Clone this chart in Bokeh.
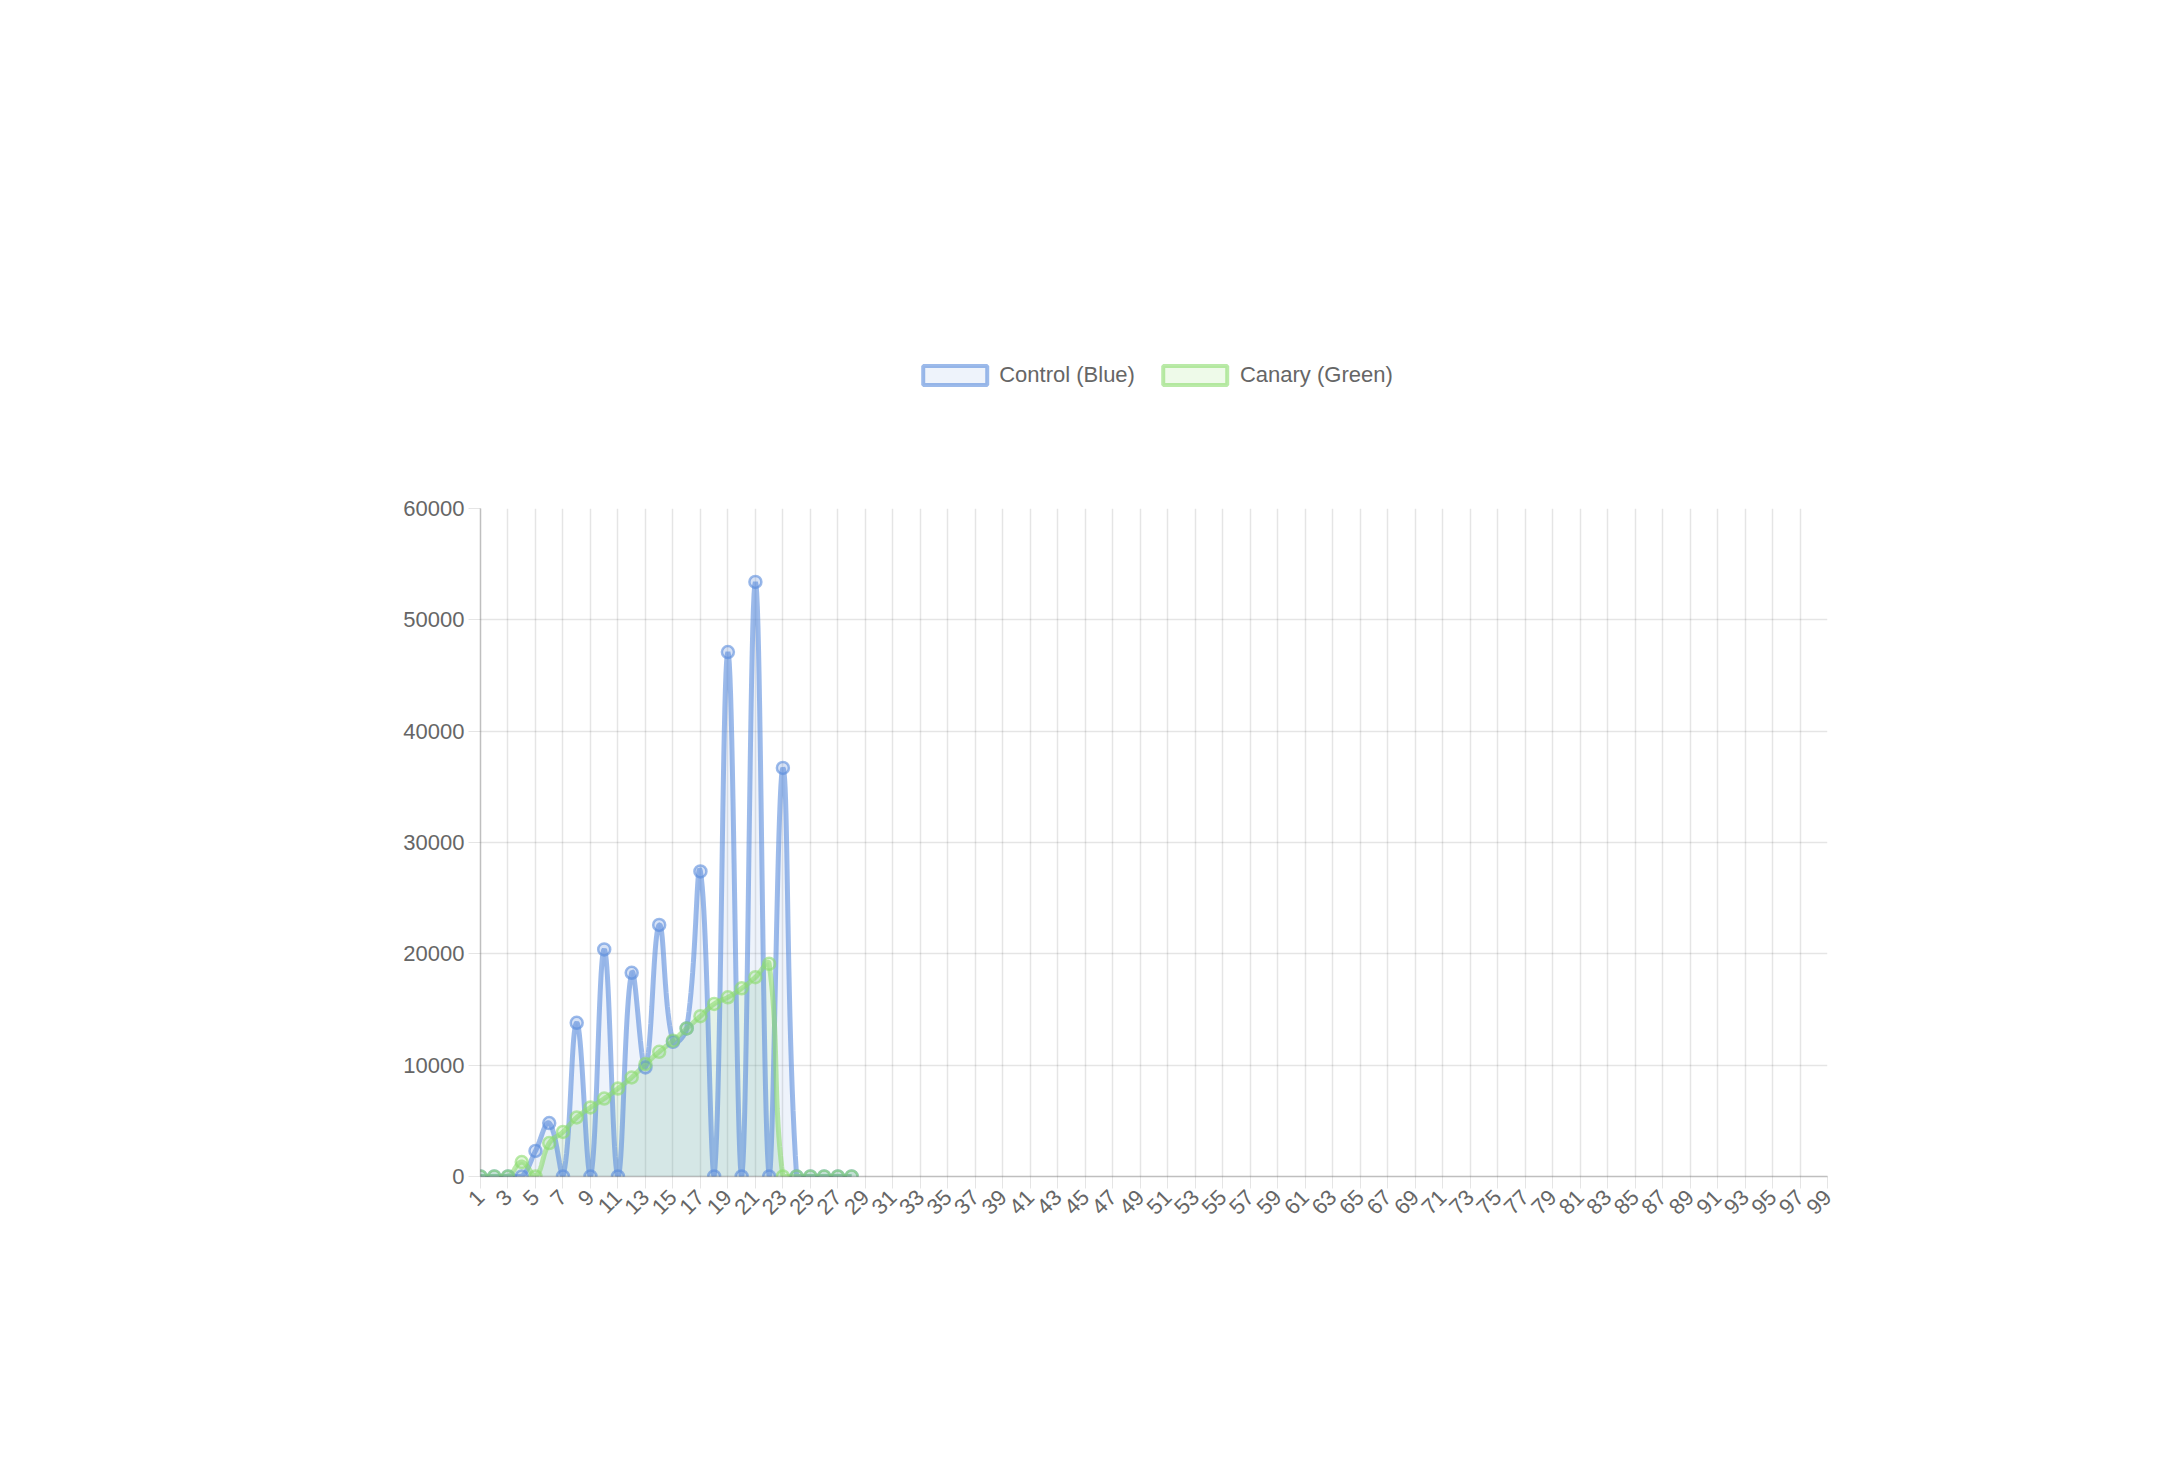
import numpy as np
from bokeh.plotting import figure
from bokeh.models import Legend, LegendItem, FixedTicker, ColumnDataSource, Range1d
from bokeh.embed import file_html
from bokeh.resources import INLINE

labels = list(range(1, 100))
control = [0, 0, 0, 0, 2300, 4800, 0, 13800, 0, 20400, 0, 18300, 9800, 22600, 12100, 13300,
           27400, 0, 47100, 0, 53400, 0, 36700, 0, 0, 0, 0, 0]
canary = [0, 0, 0, 1300, 0, 3000, 4000, 5300, 6200, 7000, 7900, 8900, 10100, 11200, 12200,
          13300, 14400, 15500, 16100, 16900, 17900, 19100, 0, 0, 0, 0, 0, 0]
blue_health = ["#77f94b", "#77f94b", "#77f94b"]
green_health = ["#5ccb3a"]

FW, FH = 1347, 668
YMAX = 60000
sx = FW / (labels[-1] - labels[0])
sy = FH / YMAX

def spline(xs, ys, t=0.4, n=24):
    px = np.array(xs, float) * sx
    py = np.array(ys, float) * sy
    m = len(px)
    c1 = []; c2 = []
    for i in range(m):
        p0 = max(i - 1, 0); p2 = min(i + 1, m - 1)
        d01 = np.hypot(px[i] - px[p0], py[i] - py[p0])
        d12 = np.hypot(px[p2] - px[i], py[p2] - py[i])
        s = d01 + d12
        fa = t * d01 / s if s else 0
        fb = t * d12 / s if s else 0
        dx = px[p2] - px[p0]; dy = py[p2] - py[p0]
        c1.append((px[i] - fa * dx, np.clip(py[i] - fa * dy, 0, FH)))
        c2.append((px[i] + fb * dx, np.clip(py[i] + fb * dy, 0, FH)))
    ox, oy = [], []
    u = np.linspace(0, 1, n)
    for i in range(m - 1):
        P0 = (px[i], py[i]); P1 = c2[i]; P2 = c1[i + 1]; P3 = (px[i + 1], py[i + 1])
        bx = (1-u)**3*P0[0] + 3*(1-u)**2*u*P1[0] + 3*(1-u)*u**2*P2[0] + u**3*P3[0]
        by = (1-u)**3*P0[1] + 3*(1-u)**2*u*P1[1] + 3*(1-u)*u**2*P2[1] + u**3*P3[1]
        ox.extend(bx); oy.extend(by)
    return np.array(ox) / sx, np.array(oy) / sy

FONT = "Liberation Sans"
sq = lambda c, x, y: (f'<div style="position:absolute;left:{x}px;top:{y}px;width:38px;height:38px;'
                      f'background:{c};border:1px solid #3e9a2a;"></div>')
head = lambda t, y: (f'<div style="position:absolute;left:17px;top:{y}px;font-family:{FONT};'
                     f'font-size:38px;line-height:44px;color:#333;white-space:nowrap;">{t}</div>')
html = '<div style="position:relative;width:2150px;height:552px;">'
html += head("Blue Control container health", -6)
for i, c in enumerate(blue_health):
    html += sq(c, 28 + 61 * i, 96)
html += head("Green Canary container health", 184)
for i, c in enumerate(green_health):
    html += sq(c, 28 + 61 * i, 286)
html += head("Latency (ms)", 375)
html += '</div>'

p = figure(frame_width=FW, frame_height=FH, output_backend="svg", toolbar_location=None,
           min_border_left=480, min_border_right=300, min_border_top=77, min_border_bottom=80,
           x_range=Range1d(labels[0], labels[-1]), y_range=Range1d(0, YMAX))
p.outline_line_color = None
p.xaxis.ticker = FixedTicker(ticks=[l for l in labels if l % 2 == 1])
p.yaxis.ticker = FixedTicker(ticks=list(range(0, 60001, 10000)))
p.xaxis.major_label_orientation = np.pi / 4
p.grid.grid_line_color = "rgba(0,0,0,0.1)"
p.grid.grid_line_width = 1.5
for ax in (p.xaxis[0], p.yaxis[0]):
    ax.axis_line_color = "rgba(0,0,0,0.25)"
    ax.axis_line_width = 1.5
    ax.major_tick_line_color = "rgba(0,0,0,0.1)"
    ax.major_tick_out = 12
    ax.major_tick_in = 0
    ax.minor_tick_line_color = None
    ax.major_label_text_font = FONT
    ax.major_label_text_font_size = "22px"
    ax.major_label_text_color = "#666"
p.yaxis.major_label_standoff = 4

xs = labels[:len(control)]
bx, by = spline(xs, control)
gx, gy = spline(xs, canary)
BL = "rgba(90,140,220,0.6)"
GR = "rgba(140,220,110,0.6)"
p.varea(x=gx, y1=0, y2=gy, fill_color="rgba(120,190,140,0.2)")
p.varea(x=bx, y1=0, y2=by, fill_color="rgba(90,140,220,0.1)")
p.line(bx, by, line_color=BL, line_width=5)
p.line(gx, gy, line_color=GR, line_width=5)
p.scatter(xs, control, size=12, fill_color="rgba(90,140,220,0.25)", line_color=BL, line_width=2.5)
p.scatter(xs, canary, size=12, fill_color="rgba(140,220,110,0.25)", line_color=GR, line_width=2.5)

off = ColumnDataSource(dict(l=[-100], r=[-99], t=[-100], b=[-101]))
lb = p.quad(left="l", right="r", top="t", bottom="b", source=off,
            fill_color="rgba(90,140,220,0.1)", line_color=BL, line_width=4)
lg = p.quad(left="l", right="r", top="t", bottom="b", source=off,
            fill_color="rgba(140,220,110,0.15)", line_color=GR, line_width=4)
leg = Legend(items=[LegendItem(label="Control (Blue)", renderers=[lb]),
                    LegendItem(label="Canary (Green)", renderers=[lg])],
             orientation="horizontal", location="center", glyph_width=80, glyph_height=24,
             label_text_font=FONT, label_text_font_size="22px", label_text_color="#666",
             border_line_color=None, background_fill_alpha=0, spacing=20, padding=4, margin=4)
p.add_layout(leg, "above")

page = file_html(p, INLINE)
page = page.replace("<body>", "<body>" + html, 1)
open("out.html", "w").write(page)
